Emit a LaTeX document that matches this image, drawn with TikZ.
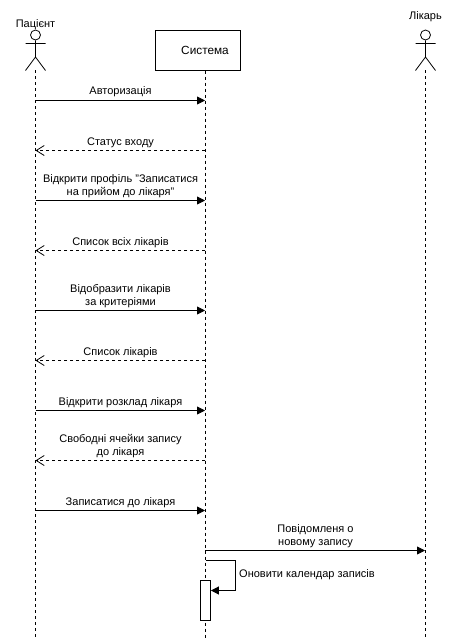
\documentclass[tikz,border=0pt]{standalone}
\usepackage{fontspec}
\setmainfont{Liberation Sans}
\usetikzlibrary{arrows.meta}
\tikzset{
  lifeline/.style={line width=0.8pt,dash pattern=on 3pt off 3pt},
  sync/.style={line width=0.8pt,-{Triangle[length=8pt,width=8pt]}},
  reply/.style={line width=0.8pt,dash pattern=on 3pt off 3pt,-{Straight Barb[length=8pt,width=10pt]}},
  lbl/.style={font=\fontsize{11}{13}\selectfont,align=center,inner sep=0pt,anchor=base},
  box/.style={draw,line width=0.8pt,fill=white,inner sep=0pt}
}
\begin{document}
\begin{tikzpicture}[x=1pt,y=-1pt]
\useasboundingbox (0,0) rectangle (455,641);
\fill[white] (0,0) rectangle (455,641);
% lifelines
\coordinate (ptop) at (35.5,70);
\coordinate (pbot) at (35.5,638);
\coordinate (stop) at (205.5,70.5);
\coordinate (sbot) at (205.5,638);
\coordinate (ltop) at (425.5,70);
\coordinate (lbot) at (425.5,638);
\draw[lifeline] (ptop) -- (pbot);
\draw[lifeline] (stop) -- (sbot);
\draw[lifeline] (ltop) -- (lbot);
% participants
\node[box,minimum width=85pt,minimum height=40pt,font=\fontsize{11.8}{13}\selectfont] (sys) at (197.5,50.5) {\hspace*{15pt}Система};
\node[lbl] (pname) at (35.5,27) {Пацієнт};
\node[lbl] (lname) at (425.5,19) {Лікарь};
% actors
\foreach \n/\x in {a/35.5,b/425.5}{
  \node[draw,circle,line width=0.8pt,minimum size=10pt,inner sep=0pt] (\n head) at (\x,35) {};
  \coordinate (\n hip) at (\x,57);
  \coordinate (\n la) at (\x-10,43.5);
  \coordinate (\n ra) at (\x+10,43.5);
  \coordinate (\n ll) at (\x-10,70.5);
  \coordinate (\n rl) at (\x+10,70.5);
  \draw[line width=0.8pt] (\n head.south) -- (\n hip) (\n la) -- (\n ra) (\n ll) -- (\n hip) -- (\n rl);
}
% message anchors
\foreach \i/\y in {1/100.5,2/150.5,3/200.5,4/250.5,5/310.5,6/360.5,7/410.5,8/460.5,9/510.5,10/550.5}{
  \coordinate (p\i) at (35.5,\y);
  \coordinate (s\i) at (205,\y);
  \coordinate (l\i) at (425,\y);
}
\draw[sync] (p1) -- (s1);
\draw[reply] (s2) -- (p2);
\draw[sync] (p3) -- (s3);
\draw[reply] (s4) -- (p4);
\draw[sync] (p5) -- (s5);
\draw[reply] (s6) -- (p6);
\draw[sync] (p7) -- (s7);
\draw[reply] (s8) -- (p8);
\draw[sync] (p9) -- (s9);
\draw[sync] (s10) -- (l10);
% labels
\node[lbl] (m1) at (120.5,94.5) {Авторизація};
\node[lbl] (m2) at (120.5,145) {Статус входу};
\node[lbl] (m3) at (120.5,195) {Відкрити профіль "Записатися\\на прийом до лікаря"};
\node[lbl] (m4) at (120.5,245) {Список всіх лікарів};
\node[lbl] (m5) at (120.5,305) {Відобразити лікарів\\за критеріями};
\node[lbl] (m6) at (120.5,355) {Список лікарів};
\node[lbl] (m7) at (120.5,405) {Відкрити розклад лікаря};
\node[lbl] (m8) at (120.5,455) {Свободні ячейки запису\\до лікаря};
\node[lbl] (m9) at (120.5,505) {Записатися до лікаря};
\node[lbl] (m10) at (315.5,545) {Повідомленя о\\новому запису};
% self message
\node[box,minimum width=10pt,minimum height=40pt] (act) at (205.5,600.5) {};
\coordinate (s11) at (205.5,560.5);
\coordinate (c1) at (235.5,560.5);
\coordinate (c2) at (235.5,590.5);
\draw[sync] (s11) -- (c1) -- (c2) -- (act.east |- c2);
\node[lbl,anchor=base west] (m11) at (239,577.5) {Оновити календар записів};
\end{tikzpicture}
\end{document}
